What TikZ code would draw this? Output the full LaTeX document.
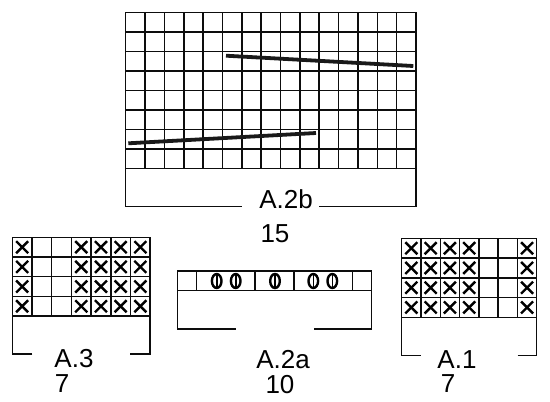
\documentclass[tikz,border=0pt]{standalone}
\usepackage{fontspec}
\setmainfont{Liberation Sans}
\usepackage{tikz}
\usetikzlibrary{positioning}

\tikzset{
  gridline/.style={line width=1.5pt, black!95},
  crossline/.style={line width=2.4pt, black},
  decline/.style={line width=3.8pt, black!90},
  label/.style={font=\fontsize{26}{26}\selectfont, inner sep=0pt, anchor=base}
}

\begin{document}
\begin{tikzpicture}[x=1pt,y=-1pt]
\useasboundingbox (0,0) rectangle (550,402);

% A.2b chart
\foreach \i in {0,...,15}
  \draw[gridline] ({125.7+\i*19.35},12.3) -- ({125.7+\i*19.35},168.3);
\foreach \j in {0,...,8}
  \draw[gridline] (125.7,{12.3+\j*19.5}) -- (416,{12.3+\j*19.5});
\draw[gridline] (241.7,206.3) -| (125.7,168.3);
\draw[gridline] (319,206.3) -| (416,168.3);
\draw[decline] (128.3,143.3) -- (316,133);
\draw[decline] (226,55.7) -- (413.3,66);
\node[label] (a2b) at (286,208) {A.2b};
\node[label] (n15) at (275,242) {15};

% A.3 chart
\foreach \i in {0,...,7}
  \draw[gridline] ({12.3+\i*19.7},237.3) -- ({12.3+\i*19.7},316);
\foreach \j in {0,...,4}
  \draw[gridline] (12.3,{237.3+\j*19.7}) -- (150,{237.3+\j*19.7});
\draw[gridline] (32.3,354) -| (12.3,316);
\draw[gridline] (130,354) -| (150,316);
\foreach \i in {0,3,4,5,6}
  \foreach \j in {0,...,3}
  {
    \draw[crossline] ({12.3+(\i+0.5)*19.7-6},{237.3+(\j+0.5)*19.7-6}) -- ++(12,12);
    \draw[crossline] ({12.3+(\i+0.5)*19.7+6},{237.3+(\j+0.5)*19.7-6}) -- ++(-12,12);
  }
\node[label] (a3) at (74,367) {A.3};
\node[label] (n7a) at (62,392) {7};

% A.2a chart
\foreach \x in {177.3,196.7,255,294,352.3,371.7}
  \draw[gridline] (\x,271) -- (\x,290.7);
\draw[gridline] (177.3,271) -- (371.7,271);
\draw[gridline] (177.3,290.7) -- (371.7,290.7);
\draw[gridline] (235.7,329) -| (177.3,290.7);
\draw[gridline] (314,329) -| (371.7,290.7);
\foreach \x in {216.7,235.7,275,313.3,332.3}
{
  \draw[line width=2.4pt] (\x,281) ellipse [x radius=4.8, y radius=7];
  \draw[line width=1.6pt] (\x,273) -- (\x,289);
}
\node[label] (a2a) at (283,368) {A.2a};
\node[label] (n10) at (280,393) {10};

% A.1 chart
\foreach \i in {0,...,7}
  \draw[gridline] ({401.7+\i*19.29},238.3) -- ({401.7+\i*19.29},317.3);
\foreach \j in {0,...,4}
  \draw[gridline] (401.7,{238.3+\j*19.75}) -- (536.7,{238.3+\j*19.75});
\draw[gridline] (420.7,355.7) -| (401.7,317.3);
\draw[gridline] (517.7,355.7) -| (536.7,317.3);
\foreach \i in {0,1,2,3,6}
  \foreach \j in {0,...,3}
  {
    \draw[crossline] ({401.7+(\i+0.5)*19.29-6},{238.3+(\j+0.5)*19.75-6}) -- ++(12,12);
    \draw[crossline] ({401.7+(\i+0.5)*19.29+6},{238.3+(\j+0.5)*19.75-6}) -- ++(-12,12);
  }
\node[label] (a1) at (457,368) {A.1};
\node[label] (n7b) at (448,392) {7};

\end{tikzpicture}
\end{document}
